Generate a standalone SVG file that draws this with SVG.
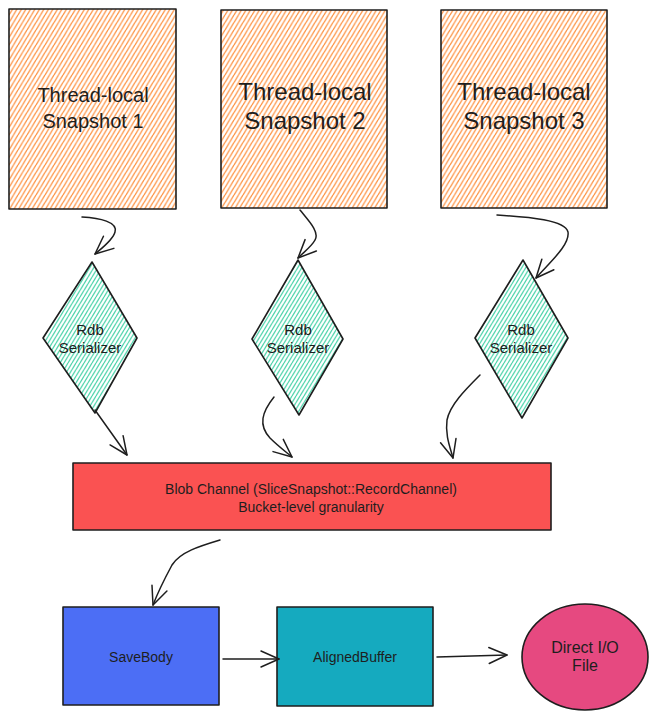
<svg xmlns="http://www.w3.org/2000/svg" width="659" height="720" viewBox="0 0 659 720">
<defs>
<pattern id="hOrange" x="0" y="0" width="4.5" height="7.5" patternUnits="userSpaceOnUse">
<path d="M0,7.5 L4.5,0 M-4.5,7.5 L0,0 M4.5,7.5 L9,0" stroke="#fd9140" stroke-width="1.3" fill="none"/>
</pattern>
<pattern id="hGreen" x="0" y="0" width="4" height="6.6" patternUnits="userSpaceOnUse">
<path d="M0,6.6 L4,0 M-4,6.6 L0,0 M4,6.6 L8,0" stroke="#4fd4ac" stroke-width="1.3" fill="none"/>
</pattern>
<marker id="arr" viewBox="0 0 24 24" refX="21" refY="12" markerWidth="24" markerHeight="24" markerUnits="userSpaceOnUse" orient="auto">
<path d="M3,4 L21,12 L3,20" fill="none" stroke="#1e1e1e" stroke-width="1.5" stroke-linecap="round" stroke-linejoin="round"/>
</marker>
</defs>
<style>
.edge{fill:none;stroke:#1e1e1e;stroke-width:1.5;stroke-linecap:round;marker-end:url(#arr)}
.shape{stroke:#1e1e1e;stroke-width:1.6;stroke-linejoin:round}
text{font-family:"Liberation Sans",Arial,Helvetica,sans-serif;fill:#1e1e1e;text-anchor:middle}
.big{font-size:24px}
.mid{font-size:20px}
.dia{font-size:15px}
.sm{font-size:14px}
</style>

<g id="snapshot1">
<rect class="shape" x="9" y="9" width="167" height="200" fill="url(#hOrange)"/>
<text class="mid" x="93" y="102">Thread-local</text>
<text class="mid" x="93" y="128">Snapshot 1</text>
</g>
<g id="snapshot2">
<rect class="shape" x="221" y="10" width="166" height="198" fill="url(#hOrange)"/>
<text class="big" x="305" y="100">Thread-local</text>
<text class="big" x="305" y="129">Snapshot 2</text>
</g>
<g id="snapshot3">
<rect class="shape" x="441" y="10" width="166" height="198" fill="url(#hOrange)"/>
<text class="big" x="524" y="100">Thread-local</text>
<text class="big" x="524" y="129">Snapshot 3</text>
</g>

<g id="serializer1">
<polygon class="shape" points="92,262 137,338 95,413 43,338" fill="url(#hGreen)"/>
<text class="dia" x="90" y="335">Rdb</text>
<text class="dia" x="90" y="353">Serializer</text>
</g>
<g id="serializer2">
<polygon class="shape" points="298,260 343,339 299,415 252,339" fill="url(#hGreen)"/>
<text class="dia" x="298" y="335">Rdb</text>
<text class="dia" x="298" y="353">Serializer</text>
</g>
<g id="serializer3">
<polygon class="shape" points="523,260 568,338 522,418 475,338" fill="url(#hGreen)"/>
<text class="dia" x="521" y="335">Rdb</text>
<text class="dia" x="521" y="353">Serializer</text>
</g>

<g id="blobChannel">
<rect class="shape" x="73" y="463" width="478" height="67" fill="#fa5252"/>
<text class="sm" x="311" y="494">Blob Channel (SliceSnapshot::RecordChannel)</text>
<text class="sm" x="311" y="512">Bucket-level granularity</text>
</g>

<g id="saveBody">
<rect class="shape" x="63" y="607" width="156" height="98" fill="#4c6ef5"/>
<text class="sm" x="141" y="662">SaveBody</text>
</g>
<g id="alignedBuffer">
<rect class="shape" x="277" y="607" width="156" height="99" fill="#15aabf"/>
<text class="sm" x="355" y="662">AlignedBuffer</text>
</g>
<g id="directIO">
<ellipse class="shape" cx="585" cy="657" rx="63" ry="53" fill="#e64980"/>
<text style="font-size:16px" x="585" y="653">Direct I/O</text>
<text style="font-size:16px" x="585" y="671">File</text>
</g>

<g id="connectors">
<path class="edge" d="M82,217 C100,218 118,222 115,232 C113,240 102,248 95,254"/>
<path class="edge" d="M95,410 L127,455"/>
<path class="edge" d="M300,210 C308,220 320,232 315,240 C312,246 304,252 298,258"/>
<path class="edge" d="M274,397 C262,412 258,425 270,438 C278,446 286,452 292,457"/>
<path class="edge" d="M497,215 C530,217 565,220 568,232 C570,245 550,262 536,278"/>
<path class="edge" d="M480,375 C465,390 450,405 447,420 C445,435 450,447 453,458"/>
<path class="edge" d="M220,540 C200,546 180,552 172,565 C165,578 158,592 153,605"/>
<path class="edge" d="M223,659 L279,659"/>
<path class="edge" d="M437,657 L507,655"/>
</g>
</svg>
